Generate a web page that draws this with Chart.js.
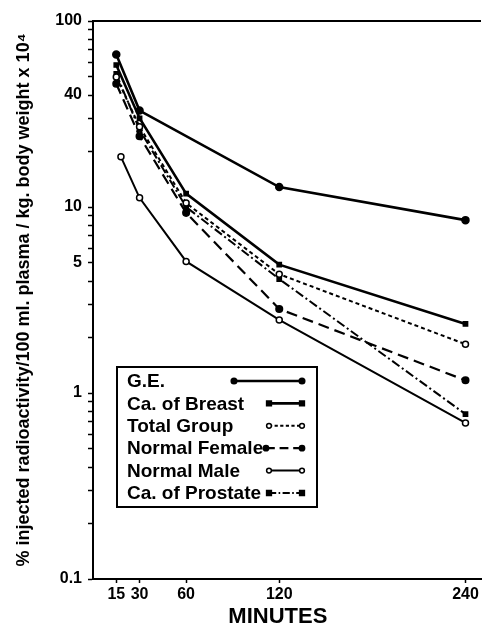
<!DOCTYPE html>
<html><head><meta charset="utf-8">
<script src="https://cdn.jsdelivr.net/npm/chart.js@4/dist/chart.umd.min.js"></script>
<style>html,body{margin:0;padding:0;background:#fff;}#wrap{width:482px;height:628px;position:relative}</style>
</head><body><div id="wrap"><canvas id="c" width="482" height="628"></canvas></div>
<script>
// ---- data ----
const xTicks = [15, 30, 60, 120, 240];
const minutes = [15, 30, 60, 120, 240];
const yTickValues = [0.1,0.2,0.3,0.4,0.5,0.6,0.7,0.8,0.9,1,2,3,4,5,6,7,8,9,10,20,30,40,50,60,70,80,90,100];
const yLabelled = [0.1, 1, 5, 10, 40, 100];
const seriesNames = ['G.E.', 'Ca. of Breast', 'Total Group', 'Normal Female', 'Normal Male', 'Ca. of Prostate'];
const geMinutes = [15, 30, 120, 240];
const geValues = [66, 33, 12.8, 8.5];
const breastValues = [58, 30, 11.8, 4.9, 2.35];
const totalValues = [50, 27, 10.5, 4.35, 1.83];
const femaleValues = [46, 24, 9.3, 2.83, 1.17];
const maleMinutes = [18, 30, 60, 120, 240];
const maleValues = [18.6, 11.2, 5.1, 2.47, 0.69];
const prostateValues = [52, 26, 10, 4.1, 0.77];
const xTitle = 'MINUTES\u00a0\u00a0\u00a0';
const yTitle = '% injected radioactivity/100 ml. plasma / kg. body weight x 10\u2074';

const FONT = "'Liberation Sans', Arial, sans-serif";
const pts = (xs, ys) => xs.map((x, i) => ({x: x, y: ys[i]}));

function ds(label, data, opts) {
  return Object.assign({
    label: label, data: data, borderColor: '#000', backgroundColor: '#000',
    pointBorderColor: '#000', pointBackgroundColor: '#000',
    borderWidth: 2, pointRadius: 3, pointBorderWidth: 1.5, tension: 0, fill: false
  }, opts);
}

const datasets = [
  ds(seriesNames[0], pts(geMinutes, geValues), {borderWidth: 2.6, pointStyle: 'circle', pointRadius: 3.5}),
  ds(seriesNames[1], pts(minutes, breastValues), {borderWidth: 2.6, pointStyle: 'rect', pointRadius: 3}),
  ds(seriesNames[2], pts(minutes, totalValues), {borderWidth: 2, borderDash: [4, 3], pointStyle: 'circle', pointRadius: 3, pointBackgroundColor: '#fff'}),
  ds(seriesNames[3], pts(minutes, femaleValues), {borderWidth: 2.2, borderDash: [11, 6], pointStyle: 'circle', pointRadius: 3.3}),
  ds(seriesNames[4], pts(maleMinutes, maleValues), {borderWidth: 2, pointStyle: 'circle', pointRadius: 3, pointBackgroundColor: '#fff'}),
  ds(seriesNames[5], pts(minutes, prostateValues), {borderWidth: 2, borderDash: [9, 3, 2, 3], pointStyle: 'rect', pointRadius: 3})
];

function drawMarker(ctx, d, x, y) {
  ctx.save();
  ctx.setLineDash([]);
  ctx.lineWidth = d.pointBorderWidth;
  ctx.strokeStyle = '#000';
  ctx.fillStyle = d.pointBackgroundColor;
  const r = d.pointRadius;
  ctx.beginPath();
  if (d.pointStyle === 'rect') ctx.rect(x - r, y - r, 2 * r, 2 * r);
  else ctx.arc(x, y, r, 0, Math.PI * 2);
  ctx.fill(); ctx.stroke();
  ctx.restore();
}

const framePlugin = {
  id: 'frame',
  afterDraw(chart) {
    const ctx = chart.ctx, a = chart.chartArea;
    ctx.save();
    ctx.strokeStyle = '#000'; ctx.lineWidth = 2;
    ctx.beginPath(); ctx.moveTo(a.left - 1, a.top); ctx.lineTo(a.right, a.top); ctx.stroke();
    // legend box
    const bx = 117, by = 367, bw = 200, bh = 140;
    ctx.fillStyle = '#fff';
    ctx.fillRect(bx, by, bw, bh);
    ctx.strokeRect(bx, by, bw, bh);
    ctx.font = 'bold 19px ' + FONT;
    ctx.fillStyle = '#000';
    ctx.textBaseline = 'middle';
    chart.data.datasets.forEach((d, i) => {
      const y = 381 + i * 22.4;
      ctx.fillText(d.label, 127, y + 1);
      const x0 = i === 0 ? 234 : (i === 3 ? 266 : 269), x1 = 302;
      ctx.save();
      ctx.lineWidth = d.borderWidth;
      ctx.setLineDash(d.borderDash ? d.borderDash.map(v => v * 0.8) : []);
      ctx.beginPath(); ctx.moveTo(x0, y); ctx.lineTo(x1, y); ctx.stroke();
      ctx.restore();
      const m = Object.assign({}, d, {pointRadius: d.pointRadius * 0.8});
      drawMarker(ctx, m, x0, y);
      drawMarker(ctx, m, x1, y);
    });
    ctx.restore();
  }
};

new Chart(document.getElementById('c'), {
  type: 'line',
  data: {datasets: datasets},
  plugins: [framePlugin],
  options: {
    responsive: false, animation: false, devicePixelRatio: 1,
    layout: {autoPadding: false, padding: {left: 6, top: 21, right: 1, bottom: 0}},
    plugins: {legend: {display: false}, tooltip: {enabled: false}},
    scales: {
      x: {
        type: 'linear', min: 0, max: 250,
        afterBuildTicks: s => { s.ticks = xTicks.map(v => ({value: v})); },
        afterFit: s => { s.height = 49; },
        grid: {drawOnChartArea: false, color: '#000', tickLength: 4, tickWidth: 1.5},
        border: {color: '#000', width: 2},
        ticks: {color: '#000', padding: 2, maxRotation: 0, autoSkip: false, font: {family: FONT, size: 16, weight: 'bold'}},
        title: {display: true, text: xTitle, color: '#000', padding: {top: 0, bottom: 0}, font: {family: FONT, size: 22, weight: 'bold', lineHeight: 1}}
      },
      y: {
        type: 'logarithmic', min: 0.1, max: 100,
        afterBuildTicks: s => { s.ticks = yTickValues.map(v => ({value: v})); },
        afterFit: s => { s.width = 87; },
        grid: {drawOnChartArea: false, color: '#000', tickLength: 5, tickWidth: 1.5},
        border: {color: '#000', width: 2},
        ticks: {color: '#000', padding: 6, autoSkip: false,
          callback: v => yLabelled.includes(v) ? String(v) : '',
          font: {family: FONT, size: 16, weight: 'bold'}},
        title: {display: true, text: yTitle, color: '#000', padding: {top: 7, bottom: 0}, font: {family: FONT, size: 18, weight: 'bold', lineHeight: 1.2}}
      }
    }
  }
});
</script>
</body></html>
